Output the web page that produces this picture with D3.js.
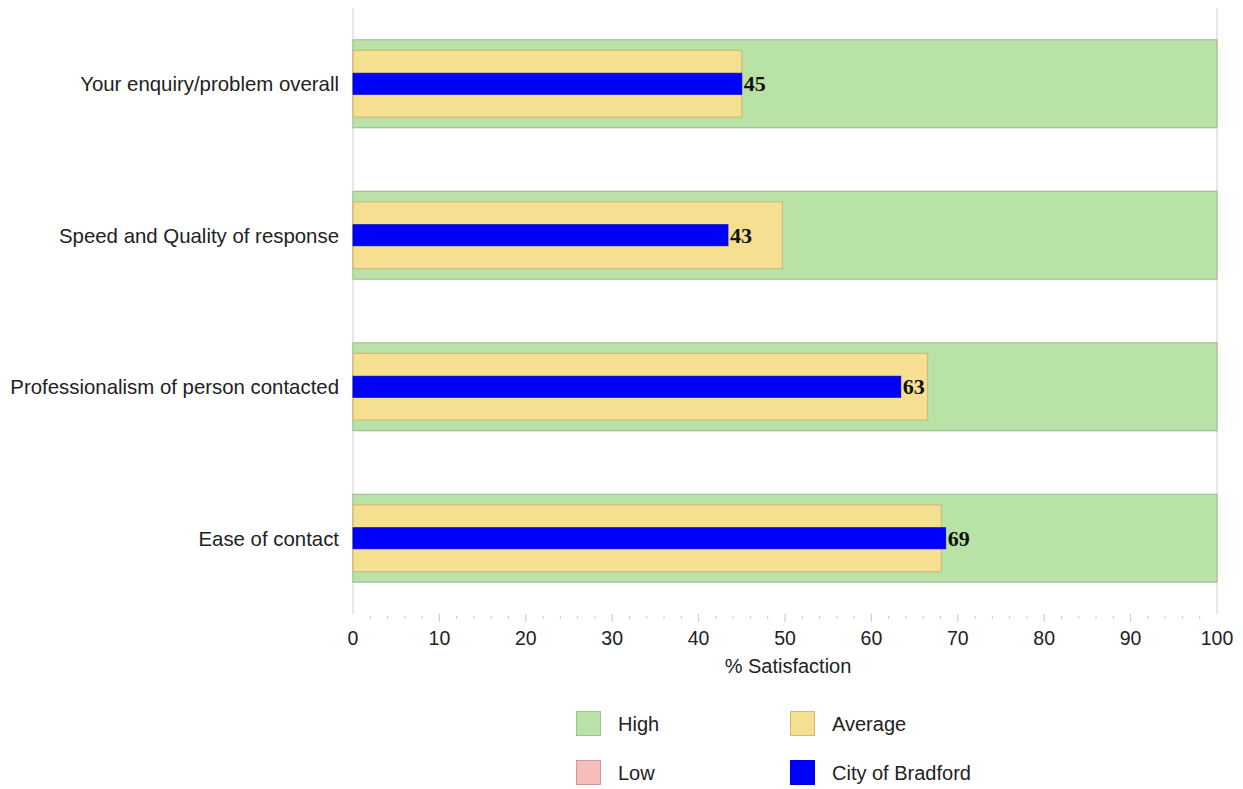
<!DOCTYPE html>
<html><head><meta charset="utf-8">
<script src="https://cdn.jsdelivr.net/npm/d3@7"></script>
<style>body{margin:0;background:#fff}svg{display:block}</style>
</head><body>
<svg id="c" width="1243" height="789"></svg>
<script>
const categories = ["Your enquiry/problem overall","Speed and Quality of response","Professionalism of person contacted","Ease of contact"];
const highValues = [100,100,100,100];
const averageValues = [45,49.7,66.5,68.1];
const bradfordValues = [45,43.4,63.4,68.6];
const bradfordLabels = ["45","43","63","69"];
const xTicks = [0,10,20,30,40,50,60,70,80,90,100];
const legendItems = [
  {name:"High", fill:"#b9e3a6", stroke:"#9dc38c"},
  {name:"Average", fill:"#f5df91", stroke:"#d3b97a"},
  {name:"Low", fill:"#f7bcbc", stroke:"#cf9a9a"},
  {name:"City of Bradford", fill:"#0000ff", stroke:"#0000cc"}
];

(function(){
const svg = d3.select("#c");
const pL = 353, pR = 1217, pT = 8, pB = 614;
const sans = "'Liberation Sans',Arial,sans-serif";
const x = d3.scaleLinear().domain([0,100]).range([pL,pR]);
const y = d3.scaleBand().domain(categories).range([pT,pB]).paddingInner(0.42).paddingOuter(0.21);

svg.selectAll(".edge").data([0,100]).join("line")
  .attr("x1",d=>x(d)).attr("x2",d=>x(d)).attr("y1",pT).attr("y2",pB)
  .attr("stroke","#d0d0d0").attr("stroke-width",1);

const bw = y.bandwidth();
const avgH = bw*0.76, bluH = bw*0.24;

svg.selectAll(".high").data(categories).join("rect")
  .attr("x",x(0)).attr("y",d=>y(d)).attr("width",(d,i)=>x(highValues[i])-x(0)).attr("height",bw)
  .attr("fill","#b9e3a6").attr("stroke","#a3bf95").attr("stroke-width",1.2);

svg.selectAll(".avg").data(categories).join("rect")
  .attr("x",x(0)).attr("y",d=>y(d)+(bw-avgH)/2).attr("width",(d,i)=>x(averageValues[i])-x(0)).attr("height",avgH)
  .attr("fill","#f5df91").attr("stroke","#d3b97a").attr("stroke-width",1.2);

svg.selectAll(".blu").data(categories).join("rect")
  .attr("x",x(0)).attr("y",d=>y(d)+(bw-bluH)/2).attr("width",(d,i)=>x(bradfordValues[i])-x(0)).attr("height",bluH)
  .attr("fill","#0000ff").attr("stroke","#0000c8").attr("stroke-width",0.8);

svg.selectAll(".lbl").data(categories).join("text")
  .attr("x",(d,i)=>x(bradfordValues[i])+2).attr("y",d=>y(d)+bw/2)
  .attr("dy","0.35em")
  .attr("font-family","'Liberation Serif','DejaVu Serif',serif").attr("font-weight","bold").attr("font-size",22)
  .attr("fill","#111").text((d,i)=>bradfordLabels[i]);

svg.selectAll(".cat").data(categories).join("text")
  .attr("x",339).attr("y",d=>y(d)+bw/2).attr("dy","0.36em").attr("text-anchor","end")
  .attr("font-family",sans).attr("font-size",20.4).attr("fill","#222").text(d=>d);

const minor = d3.range(2,100,2).filter(v=>v%10!==0);
svg.selectAll(".mt").data(minor).join("line")
  .attr("x1",d=>x(d)).attr("x2",d=>x(d)).attr("y1",616).attr("y2",619)
  .attr("stroke","#c8c8c8").attr("stroke-width",1);
svg.selectAll(".Mt").data(xTicks.slice(1,-1)).join("line")
  .attr("x1",d=>x(d)).attr("x2",d=>x(d)).attr("y1",614).attr("y2",622)
  .attr("stroke","#c8c8c8").attr("stroke-width",1);

svg.selectAll(".tl").data(xTicks).join("text")
  .attr("x",d=>x(d)).attr("y",645).attr("text-anchor","middle")
  .attr("font-family",sans).attr("font-size",19.5).attr("fill","#222").text(d=>d);

svg.append("text").attr("x",788).attr("y",673).attr("text-anchor","middle")
  .attr("font-family",sans).attr("font-size",20).attr("fill","#222").text("% Satisfaction");

const lx = [576,790], ly = [711,760];
const lg = svg.selectAll(".lg").data(legendItems).join("g")
  .attr("transform",(d,i)=>`translate(${lx[i%2]},${ly[Math.floor(i/2)]})`);
lg.append("rect").attr("x",0.5).attr("y",0.5).attr("width",24).attr("height",24)
  .attr("fill",d=>d.fill).attr("stroke",d=>d.stroke).attr("stroke-width",1);
lg.append("text").attr("x",42).attr("y",13).attr("dy","0.36em")
  .attr("font-family",sans).attr("font-size",20).attr("fill","#222").text(d=>d.name);
})();
</script>
</body></html>
